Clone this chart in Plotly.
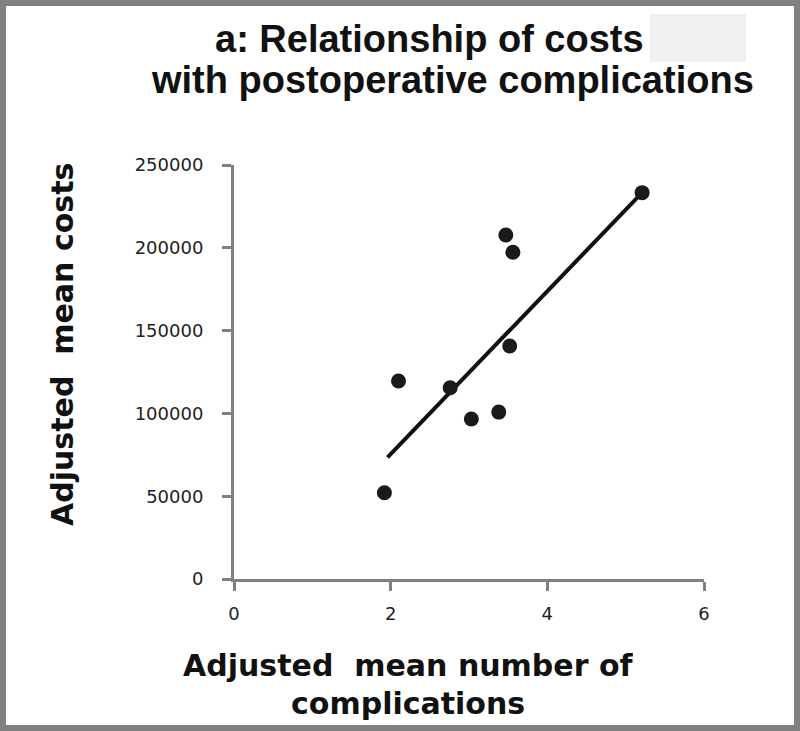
import plotly.graph_objects as go

# Data
complications = [1.92, 2.10, 2.76, 3.03, 3.38, 3.47, 3.56, 3.52, 5.21]
costs = [52100, 119600, 115500, 96600, 100800, 207700, 197300, 140700, 233300]
trend_x = [1.96, 5.21]
trend_y = [73500, 233300]
x_ticks = [0, 2, 4, 6]
y_ticks = [0, 50000, 100000, 150000, 200000, 250000]

W, H = 800, 731
L, R, T, B = 234, 96, 165, 152
pw, ph = W - L - R, H - T - B


def px(x):
    return (x - L) / pw


def py(y):
    return (H - B - y) / ph


fig = go.Figure()
fig.add_trace(go.Scatter(x=trend_x, y=trend_y, mode="lines",
                         line=dict(color="#111111", width=4), hoverinfo="skip"))
fig.add_trace(go.Scatter(x=complications, y=costs, mode="markers",
                         marker=dict(color="#1a1a1a", size=15)))

axis_common = dict(showline=True, linecolor="#808080", linewidth=3,
                   ticks="outside", tickcolor="#808080", tickwidth=3, ticklen=9,
                   showgrid=False, zeroline=False, tickformat="d",
                   tickfont=dict(family="DejaVu Sans", size=18, color="#222222"))
fig.update_xaxes(range=[0, 6], tickvals=x_ticks, ticklabelstandoff=7, **axis_common)
fig.update_yaxes(range=[0, 250000], tickvals=y_ticks, ticklabelstandoff=15, **axis_common)

annos = [
    dict(text="<b>a: Relationship of costs</b>", x=px(429), y=py(39),
         font=dict(family="Liberation Sans", size=38, color="#111111")),
    dict(text="<b>with postoperative complications</b>", x=px(452), y=py(80),
         font=dict(family="Liberation Sans", size=38, color="#111111")),
    dict(text="<b>Adjusted  mean number of</b>", x=px(408), y=py(665),
         font=dict(family="DejaVu Sans", size=30, color="#111111")),
    dict(text="<b>complications</b>", x=px(408), y=py(703),
         font=dict(family="DejaVu Sans", size=30, color="#111111")),
    dict(text="<b>Adjusted  mean costs</b>", x=px(62), y=py(345), textangle=-90,
         font=dict(family="DejaVu Sans", size=30, color="#111111")),
]
for a in annos:
    a.update(xref="paper", yref="paper", showarrow=False, xanchor="center", yanchor="middle")
fig.update_layout(annotations=annos)

fig.add_shape(type="rect", xref="paper", yref="paper",
              x0=px(650), x1=px(746), y0=py(14), y1=py(62),
              fillcolor="#f0f0f0", line=dict(width=0), layer="below")
fig.add_shape(type="rect", xref="paper", yref="paper",
              x0=px(3), x1=px(797), y0=py(3), y1=py(728),
              line=dict(color="#808080", width=6), fillcolor="rgba(0,0,0,0)")

fig.update_layout(width=W, height=H, margin=dict(l=L, r=R, t=T, b=B),
                  paper_bgcolor="white", plot_bgcolor="white", showlegend=False)
fig.write_html("out.html", config={"displayModeBar": False},
               post_script="document.body.style.margin='0';document.body.style.overflow='hidden';")
